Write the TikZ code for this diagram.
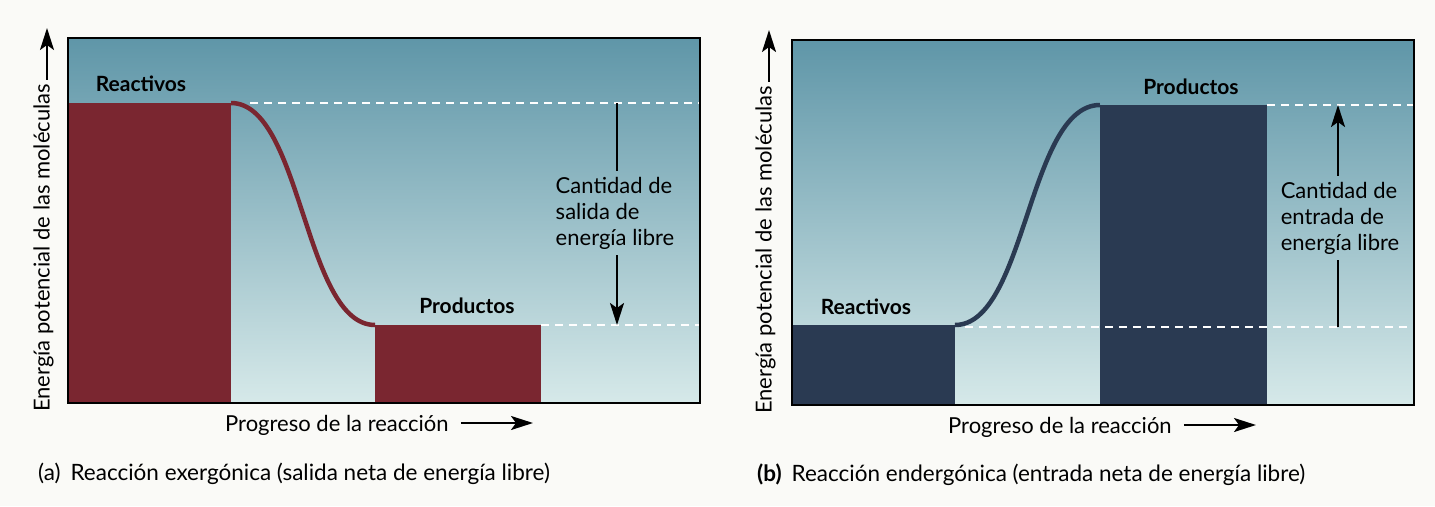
\documentclass[tikz,border=0pt]{standalone}
\usepackage{fontspec}
\setmainfont{Lato}
\usetikzlibrary{arrows.meta}
\definecolor{paper}{RGB}{250,250,247}
\definecolor{bgtop}{RGB}{95,150,168}
\definecolor{bgmid}{RGB}{140,185,196}
\definecolor{bgbot}{RGB}{214,233,233}
\definecolor{redbar}{RGB}{122,38,48}
\definecolor{navybar}{RGB}{42,58,82}
\tikzset{
	txt/.style={font=\fontsize{22}{26}\selectfont, inner sep=0pt},
	boldtxt/.style={font=\fontsize{21}{26}\selectfont\bfseries, inner sep=0pt},
	amount/.style={txt, align=left, outer sep=6pt},
	level/.style={white, line width=2pt, dash pattern=on 8pt off 6pt},
	energy/.style={line width=2.2pt, -{Stealth[length=22pt,width=14pt,inset=5pt]}},
	axis/.style={line width=2.2pt, -{Stealth[length=22pt,width=14pt,inset=5pt]}}
}

\begin{document}
\begin{tikzpicture}[x=1pt, y=-1pt]
	\fill[paper] (0,0) rectangle (1435,506);
	\useasboundingbox (0,0) rectangle (1435,506);

	% (a) exergonic
	\shade[top color=bgtop, middle color=bgmid, bottom color=bgbot] (68,38) rectangle (700,403);
	\fill[redbar] (68,103) rectangle (231,403);
	\fill[redbar] (375,325) rectangle (541,403);
	\draw[redbar, line width=4.5pt] (231,103) .. controls (302,103) and (304,325) .. (375,325);
	\draw[level] (250,103) -- (700,103);
	\draw[level] (541,325) -- (700,325);
	\draw[line width=1.5pt] (68,38) rectangle (700,403);

	\node[boldtxt, anchor=base] (reacA) at (141,91) {Reactivos};
	\node[boldtxt, anchor=base] (prodA) at (467,313) {Productos};

	\coordinate (hiA) at (617,103);
	\coordinate (loA) at (617,325);
	\node[amount] (outA) at (615,213) {Cantidad de\\salida de\\energía libre};
	\draw[line width=2.2pt] (hiA) -- (hiA |- outA.north);
	\draw[energy] (loA |- outA.south) -- (loA);

	% axes (a)
	\node[txt, rotate=90, anchor=mid west] (yA) at (47,412) {Energía potencial de las moléculas};
	\coordinate (ytopA) at (47,28);
	\draw[axis] (yA.mid east) ++(0,-4) -- (ytopA);
	\node[txt, anchor=base west] (xA) at (225,431) {Progreso de la reacción};
	\coordinate (xendA) at (533,423);
	\draw[axis] (xA.east |- xendA) ++(12,0) -- (xendA);

	% (b) endergonic
	\shade[top color=bgtop, middle color=bgmid, bottom color=bgbot] (792,40) rectangle (1414,405);
	\fill[navybar] (792,325) rectangle (955,405);
	\fill[navybar] (1100,105) rectangle (1267,405);
	\draw[navybar, line width=4.5pt] (955,325) .. controls (1026,325) and (1028,105) .. (1100,105);
	\draw[level] (1267,105) -- (1414,105);
	\draw[level] (965,327) -- (1414,327);
	\draw[line width=1.5pt] (792,40) rectangle (1414,405);

	\node[boldtxt, anchor=base] (reacB) at (866,314) {Reactivos};
	\node[boldtxt, anchor=base] (prodB) at (1191,94) {Productos};

	\coordinate (hiB) at (1338,105);
	\coordinate (loB) at (1338,327);
	\node[amount] (inB) at (1340,218) {Cantidad de\\entrada de\\energía libre};
	\draw[energy] (hiB |- inB.north) -- (hiB);
	\draw[line width=2.2pt] (loB) -- (loB |- inB.south);

	% axes (b)
	\node[txt, rotate=90, anchor=mid west] (yB) at (769,414) {Energía potencial de las moléculas};
	\coordinate (ytopB) at (769,30);
	\draw[axis] (yB.mid east) ++(0,-4) -- (ytopB);
	\node[txt, anchor=base west] (xB) at (948,433) {Progreso de la reacción};
	\coordinate (xendB) at (1256,425);
	\draw[axis] (xB.east |- xendB) ++(12,0) -- (xendB);

	% captions
	\node[txt, anchor=base west, font=\fontsize{22.5}{26}\selectfont] (capA) at (38,480) {(a)\hspace{10pt}Reacción exergónica (salida neta de energía libre)};
	\node[txt, anchor=base west, font=\fontsize{22.5}{26}\selectfont] (capB) at (757,481) {\textbf{(b)}\hspace{10pt}Reacción endergónica (entrada neta de energía libre)};
\end{tikzpicture}
\end{document}
